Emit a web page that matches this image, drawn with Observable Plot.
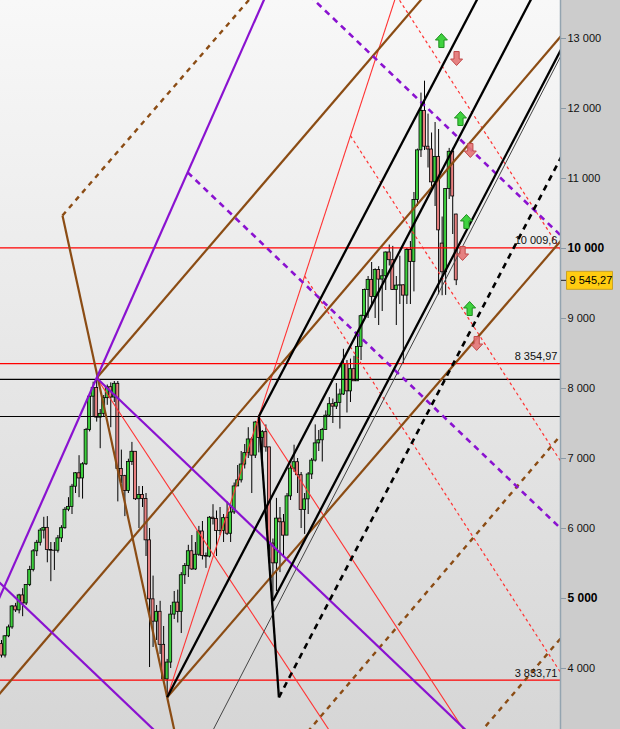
<!DOCTYPE html>
<html><head><meta charset="utf-8">
<script src="https://cdn.jsdelivr.net/npm/d3@7"></script>
<script src="https://cdn.jsdelivr.net/npm/@observablehq/plot@0.6"></script>
<style>
html,body{margin:0;padding:0;background:#fff;}
#chart svg{display:block;}
</style></head><body><div id="chart"></div>
<script>
// Monthly candles, April 2005 .. January 2016 (x = month index)
const opens = [
 4348,4185,4460,4587,4886,4830,5044,4929,5193,
 5408,5674,5796,5970,6009,5692,5683,5682,5859,6004,6268,6309,
 6597,6789,6715,6917,7409,7883,8007,7584,7638,7862,8019,7871,
 8067,6851,6748,6535,6949,7096,6418,6479,6422,5831,4988,4669,
 4810,4338,3844,4085,4770,4941,4809,5332,5465,5675,5415,5625,
 5957,5608,5598,6154,6136,5964,5966,6148,5925,6229,6601,6688,
 6914,7077,7272,7041,7514,7294,7376,7159,5785,5502,6141,6089,
 5898,6459,6856,6947,6761,6264,6416,6772,6970,7216,7260,7406,
 7612,7776,7741,7795,7914,8349,7959,8276,8103,8594,9033,9406,
 9552,9306,9692,9556,9603,9943,9833,9407,9470,9474,9327,9980,
 9806,10694,11402,11966,11454,11414,10945,11309,10070,9660,10850,11382,
 10485];
const highs = [
 4400,4470,4620,4900,4930,5060,5140,5200,5460,
 5700,5830,6000,6160,6170,5800,5800,5900,6040,6300,6440,6630,
 6800,7040,6940,7430,7890,8090,8151,7700,7900,8050,8080,8100,
 8100,7120,6760,6990,7230,7100,6600,6600,6500,6000,5320,4900,
 4960,4600,4130,4900,5100,5120,5370,5500,5760,5900,5800,6030,
 6100,5650,6170,6340,6250,6300,6200,6380,6300,6650,6900,7100,
 7200,7440,7300,7530,7600,7400,7480,7160,5850,6430,6300,6200,
 6500,6900,7190,7000,6800,6500,6800,7000,7480,7400,7430,7680,
 7870,7850,8070,7990,8560,8400,8420,8460,8770,9050,9420,9600,
 9800,9710,9740,9700,9950,10050,10030,9600,9890,9480,10000,10100,
 10800,11420,12220,12390,11920,11650,11800,11700,10450,10850,11430,11430,
 10490];
const lows = [
 4150,4150,4440,4560,4800,4780,4740,4900,5170,
 5380,5600,5750,5850,5510,5240,5400,5650,5800,5990,6240,6200,
 6500,6440,6420,6900,7380,7600,7520,7140,7600,7760,7440,7800,
 6380,6640,6170,6500,6900,6400,6000,6300,5600,4014,4300,4400,
 4200,3800,3588,4000,4700,4650,4500,5200,5300,5400,5400,5600,
 5550,5430,5580,6050,5600,5900,5800,5900,5800,6200,6600,6650,
 6850,7000,6500,7000,7080,6980,7090,5600,4965,5100,5370,5600,
 5900,6400,6800,6500,6000,5915,6200,6700,6950,7100,6950,7400,
 7600,7500,7700,7420,7900,7650,7800,8100,8100,8400,9000,9000,
 9200,9000,8900,9100,9400,9750,9400,8900,9200,8355,9200,9200,
 9380,10600,11300,11400,11150,10800,10600,9338,9325,9330,10700,10200,
 9470];
const closes = [
 4185,4460,4587,4886,4830,5044,4929,5193,5408,
 5674,5796,5970,6009,5692,5683,5682,5859,6004,6268,6309,6597,
 6789,6715,6917,7409,7883,8007,7584,7638,7862,8019,7871,8067,
 6851,6748,6535,6949,7096,6418,6479,6422,5831,4988,4669,4810,
 4338,3844,4085,4770,4941,4809,5332,5465,5675,5415,5625,5957,
 5608,5598,6154,6136,5964,5966,6148,5925,6229,6601,6688,6914,
 7077,7272,7041,7514,7294,7376,7159,5785,5502,6141,6089,5898,
 6459,6856,6947,6761,6264,6416,6772,6970,7216,7260,7406,7612,
 7776,7741,7795,7914,8349,7959,8276,8103,8594,9033,9406,9552,
 9306,9692,9556,9603,9943,9833,9407,9470,9474,9327,9980,9806,
 10694,11402,11966,11454,11414,10945,11309,10259,9660,10850,11382,10743,
 9545.27];
const lastPrice = 9545.27;

// Horizontal levels
const redLevels = [10009.6, 8354.97, 3833.71];
const redLevelLabels = ["10 009,6", "8 354,97", "3 833,71"];
const blackLevels = [8130, 7600];

// Drawn trend lines: [month index, price] -> [month index, price]
const purpleSolid = [
  {i1: -1, v1: 4965, i2: 80, v2: 14182},
  {i1: -1, v1: 5248, i2: 60, v2: 2317},
  {i1: 27, v1: 8151, i2: 135, v2: 2962}];
const purpleDashed = [
  {i1: 52.8, v1: 11087, i2: 162, v2: 5840},
  {i1: 85, v1: 13726, i2: 162, v2: 10026}];
const brownSolid = [
  {i1: 17.3, v1: 10471, i2: 49, v2: 3125},
  {i1: -1, v1: 3612, i2: 160, v2: 13111},
  {i1: 47, v1: 3588, i2: 160, v2: 10187},
  {i1: 27, v1: 8151, i2: 122, v2: 13728}];
const brownDashed = [
  {i1: 17.3, v1: 10471, i2: 72, v2: 13655},
  {i1: 85, v1: 2987, i2: 162, v2: 7530},
  {i1: 130, v1: 2742, i2: 162, v2: 4630}];
const blackSolid = [
  {i1: 47, v1: 3588, i2: 152, v2: 13731},
  {i1: 73, v1: 7600, i2: 137, v2: 13757},
  {i1: 73, v1: 7600, i2: 78.7, v2: 3588},
  {i1: 77, v1: 4965, i2: 162, v2: 13159}];
const blackThin = [
  {i1: 55, v1: 2631, i2: 162, v2: 13074}];
const blackDashed = [
  {i1: 78.7, v1: 3588, i2: 162, v2: 11618}];
const redSolid = [
  {i1: 27, v1: 8151, i2: 100, v2: 2581},
  {i1: 73, v1: 7600, i2: 140, v2: 2441},
  {i1: 47, v1: 3588, i2: 113, v2: 13772}];
const redDashed = [
  {i1: 86, v1: 9606, i2: 162, v2: 3678},
  {i1: 99, v1: 11612, i2: 162, v2: 6698},
  {i1: 112, v1: 13618, i2: 162, v2: 9718}];

// Signal arrows
const arrowsUp = [
  {i: 124.8, v: 12971}, {i: 130.2, v: 11857}, {i: 131.9, v: 10386}, {i: 132.8, v: 9143}];
const arrowsDown = [
  {i: 129.1, v: 12714}, {i: 133.0, v: 11400}, {i: 130.8, v: 9929}, {i: 134.8, v: 8643}];

const yTicks = [4000, 6000, 7000, 8000, 9000, 11000, 12000, 13000];
const yTicksBold = [5000, 10000];

const candles = opens.map((o, i) => ({i, open: o, high: highs[i], low: lows[i], close: closes[i]}));
const up = candles.filter(d => d.close >= d.open);
const down = candles.filter(d => d.close < d.open);
const levels = redLevels.map((v, k) => ({v, label: redLevelLabels[k]}));
const fmt = v => d3.format(",")(v).replace(/,/g, " ");
const fmtPrice = v => d3.format(",.2f")(v).replace(/,/g, " ").replace(".", ",");

const upSym = {draw(c) { c.moveTo(0,-7); c.lineTo(6,-0.5); c.lineTo(2.6,-0.5); c.lineTo(2.6,7); c.lineTo(-2.6,7); c.lineTo(-2.6,-0.5); c.lineTo(-6,-0.5); c.closePath(); }};
const downSym = {draw(c) { c.moveTo(0,7); c.lineTo(6,0.5); c.lineTo(2.6,0.5); c.lineTo(2.6,-7); c.lineTo(-2.6,-7); c.lineTo(-2.6,0.5); c.lineTo(-6,0.5); c.closePath(); }};
const boxSym = {draw(c) { c.rect(6, -9, 46, 18); }};

const link = (data, o) => Plot.link(data, {x1: "i1", y1: "v1", x2: "i2", y2: "v2", clip: true, ...o});

const chart = Plot.plot({
  width: 620, height: 729,
  marginLeft: 0, marginRight: 60, marginTop: 0, marginBottom: 0,
  x: {type: "linear", domain: [-0.2837, 158.58], axis: null},
  y: {type: "linear", domain: [3128.57, 13542.86], axis: null},
  style: {
    background: "linear-gradient(to right, rgba(0,0,0,0) 560px, #cccccc 560px), linear-gradient(#f8f8f8, #d6d6d6)",
    fontFamily: "'Liberation Sans', Arial, sans-serif",
    fontSize: "11px"
  },
  marks: [
    Plot.ruleX(candles, {x: "i", y1: "low", y2: "high", stroke: "#000", strokeWidth: 1}),
    Plot.rect(up, {x1: d => d.i - 0.42, x2: d => d.i + 0.42, y1: "open", y2: "close", fill: "#3ccf3c", stroke: "#000", strokeWidth: 0.8}),
    Plot.rect(down, {x1: d => d.i - 0.42, x2: d => d.i + 0.42, y1: "open", y2: "close", fill: "#e88080", stroke: "#000", strokeWidth: 0.8}),
    Plot.ruleY(redLevels, {stroke: "#ff0000", strokeWidth: 1.3}),
    Plot.ruleY(blackLevels, {stroke: "#000", strokeWidth: 1.2}),
    link(redSolid, {stroke: "#ff3333", strokeWidth: 1.1}),
    link(redDashed, {stroke: "#ff3333", strokeWidth: 1.2, strokeDasharray: "3,3"}),
    link(blackThin, {stroke: "#444", strokeWidth: 1}),
    link(brownSolid, {stroke: "#8b4c14", strokeWidth: 2.2}),
    link(brownDashed, {stroke: "#8b4c14", strokeWidth: 2.4, strokeDasharray: "5,5"}),
    link(purpleSolid, {stroke: "#8a12d0", strokeWidth: 2.2}),
    link(purpleDashed, {stroke: "#8a12d0", strokeWidth: 2.6, strokeDasharray: "6,5"}),
    link(blackSolid, {stroke: "#000", strokeWidth: 2.3}),
    link(blackDashed, {stroke: "#000", strokeWidth: 2.6, strokeDasharray: "6,5"}),
    Plot.dot(arrowsUp, {x: "i", y: "v", symbol: upSym, fill: "#3fd23f", stroke: "#1f8f1f", strokeWidth: 1}),
    Plot.dot(arrowsDown, {x: "i", y: "v", symbol: downSym, fill: "#e47575", stroke: "#c24a4a", strokeWidth: 1, fillOpacity: 0.9}),
    Plot.text(levels, {y: "v", text: "label", frameAnchor: "right", textAnchor: "end", dx: -3, dy: -7, fill: "#111", fontSize: 11}),
    Plot.frame({anchor: "right", stroke: "#93a4b0", strokeWidth: 1.5}),
    Plot.axisY({anchor: "right", ticks: yTicks, tickFormat: fmt, tickSize: 5, tickPadding: 2, stroke: "#8a9aa6", fill: "#111", fontSize: 11, label: null}),
    Plot.axisY({anchor: "right", ticks: yTicksBold, tickFormat: fmt, tickSize: 5, tickPadding: 2, stroke: "#8a9aa6", fill: "#000", fontSize: 12, fontWeight: "bold", label: null}),
    Plot.axisY({anchor: "right", ticks: [lastPrice], tickFormat: () => "", tickSize: 5, stroke: "#222", label: null}),
    Plot.dot([lastPrice], {y: d => d, frameAnchor: "right", symbol: boxSym, fill: "#ffcc11", stroke: "#c9a227", strokeWidth: 1}),
    Plot.text([lastPrice], {y: d => d, frameAnchor: "right", text: d => fmtPrice(d), textAnchor: "start", dx: 9, fill: "#000", fontSize: 11})
  ]
});
document.getElementById("chart").appendChild(chart);
</script>
</body></html>
